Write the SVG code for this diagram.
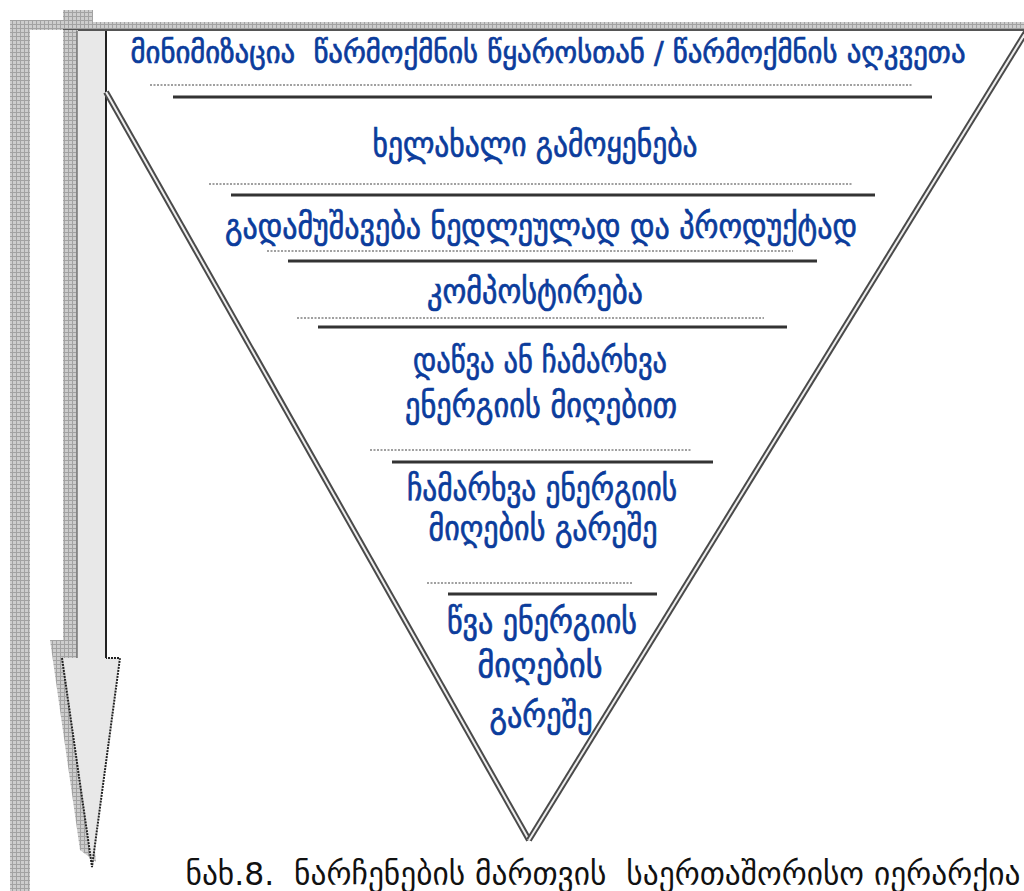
<svg xmlns="http://www.w3.org/2000/svg" width="1024" height="891" viewBox="0 0 1024 891">
<defs>
<pattern id="hatch" width="4" height="4" patternUnits="userSpaceOnUse">
<rect width="4" height="4" fill="#cdcdcd"/>
<path d="M0 0.5H4M0.5 0V4" stroke="#a2a2a2" stroke-width="1"/>
</pattern>
<style>
text{white-space:pre;}
.t{font-family:"DejaVu Sans","Noto Sans",sans-serif;font-size:34px;fill:#0b3c9c;stroke:#0b3c9c;stroke-width:0.7px;text-anchor:middle;}
.t1{font-size:30px;}
.cap{font-family:"DejaVu Sans Condensed","DejaVu Sans",sans-serif;font-size:32px;fill:#111;text-anchor:middle;}
.dot{stroke:#a0a0a0;stroke-width:2;stroke-dasharray:2 1.5;fill:none;}
.sol{stroke:#333;stroke-width:3;fill:none;}
.edge{stroke:#4a4a4a;stroke-width:6;fill:none;}
.gap{stroke:#eeeeee;stroke-width:2;fill:none;}
</style>
</defs>
<rect width="1024" height="891" fill="#fff"/>
<g id="frame">
<rect x="10" y="20" width="20" height="871" fill="url(#hatch)"/>
<rect x="10" y="20" width="55" height="10" fill="url(#hatch)"/>
<rect x="63" y="10" width="30" height="20" fill="url(#hatch)"/>
<rect x="63" y="22" width="961" height="9" fill="url(#hatch)"/>
<line x1="63" y1="30" x2="1024" y2="30" stroke="#555" stroke-width="2"/>
</g>
<g id="arrow">
<rect x="63" y="30" width="15" height="630" fill="url(#hatch)"/>
<polygon points="50,640 78,640 78,660 96,862 80,850" fill="url(#hatch)"/>
<rect x="77" y="31" width="29" height="628" fill="#e8e8e8"/>
<line x1="77" y1="31" x2="77" y2="658" stroke="#777" stroke-width="1.5"/>
<line x1="106" y1="31" x2="106" y2="659" stroke="#222" stroke-width="2"/>
<polygon points="62,658 120,658 92,867" fill="#e8e8e8"/>
<polyline points="62,658 92,867 120,658 106,658" fill="none" stroke="#222" stroke-width="2" stroke-dasharray="2 1"/>
</g>
<g id="triangle">
<line class="edge" x1="106" y1="92" x2="529" y2="840"/>
<line class="gap" x1="106" y1="92" x2="529" y2="840"/>
<line class="edge" x1="1026" y1="32" x2="529" y2="840"/>
<line class="gap" x1="1026" y1="32" x2="529" y2="840"/>
</g>
<g id="connectors">
<line class="dot" x1="150" y1="85" x2="912" y2="85"/>
<line class="sol" x1="173" y1="97" x2="932" y2="97"/>
<line class="dot" x1="209" y1="184" x2="852" y2="184"/>
<line class="sol" x1="231" y1="195" x2="875" y2="195"/>
<line class="dot" x1="267" y1="251" x2="793" y2="251"/>
<line class="sol" x1="288" y1="261" x2="817" y2="261"/>
<line class="dot" x1="297" y1="318" x2="764" y2="318"/>
<line class="sol" x1="318" y1="327" x2="787" y2="327"/>
<line class="dot" x1="370" y1="450" x2="692" y2="450"/>
<line class="sol" x1="392" y1="462" x2="713" y2="462"/>
<line class="dot" x1="427" y1="583" x2="632" y2="583"/>
<line class="sol" x1="448" y1="594" x2="657" y2="594"/>
</g>
<g id="level1"><text class="t t1" x="548" y="63" textLength="835" lengthAdjust="spacingAndGlyphs">მინიმიზაცია  წარმოქმნის წყაროსთან / წარმოქმნის აღკვეთა</text></g>
<g id="level2"><text class="t" x="535" y="156" textLength="325" lengthAdjust="spacingAndGlyphs">ხელახალი გამოყენება</text></g>
<g id="level3"><text class="t" x="541" y="238" textLength="632" lengthAdjust="spacingAndGlyphs">გადამუშავება ნედლეულად და პროდუქტად</text></g>
<g id="level4"><text class="t" x="535" y="303" textLength="216" lengthAdjust="spacingAndGlyphs">კომპოსტირება</text></g>
<g id="level5">
<text class="t" x="540" y="372" textLength="254" lengthAdjust="spacingAndGlyphs">დაწვა ან ჩამარხვა</text>
<text class="t" x="541" y="417" textLength="272" lengthAdjust="spacingAndGlyphs">ენერგიის მიღებით</text>
</g>
<g id="level6">
<text class="t" x="542" y="500" textLength="270" lengthAdjust="spacingAndGlyphs">ჩამარხვა ენერგიის</text>
<text class="t" x="543" y="540" textLength="229" lengthAdjust="spacingAndGlyphs">მიღების გარეშე</text>
</g>
<g id="level7">
<text class="t" x="542" y="633" textLength="190" lengthAdjust="spacingAndGlyphs">წვა ენერგიის</text>
<text class="t" x="540" y="677" textLength="125" lengthAdjust="spacingAndGlyphs">მიღების</text>
<text class="t" x="541" y="727" textLength="103" lengthAdjust="spacingAndGlyphs">გარეშე</text>
</g>
<g id="caption"><text class="cap" x="603" y="885" textLength="835" lengthAdjust="spacingAndGlyphs">ნახ.8.  ნარჩენების მართვის  საერთაშორისო იერარქია</text></g>
</svg>
